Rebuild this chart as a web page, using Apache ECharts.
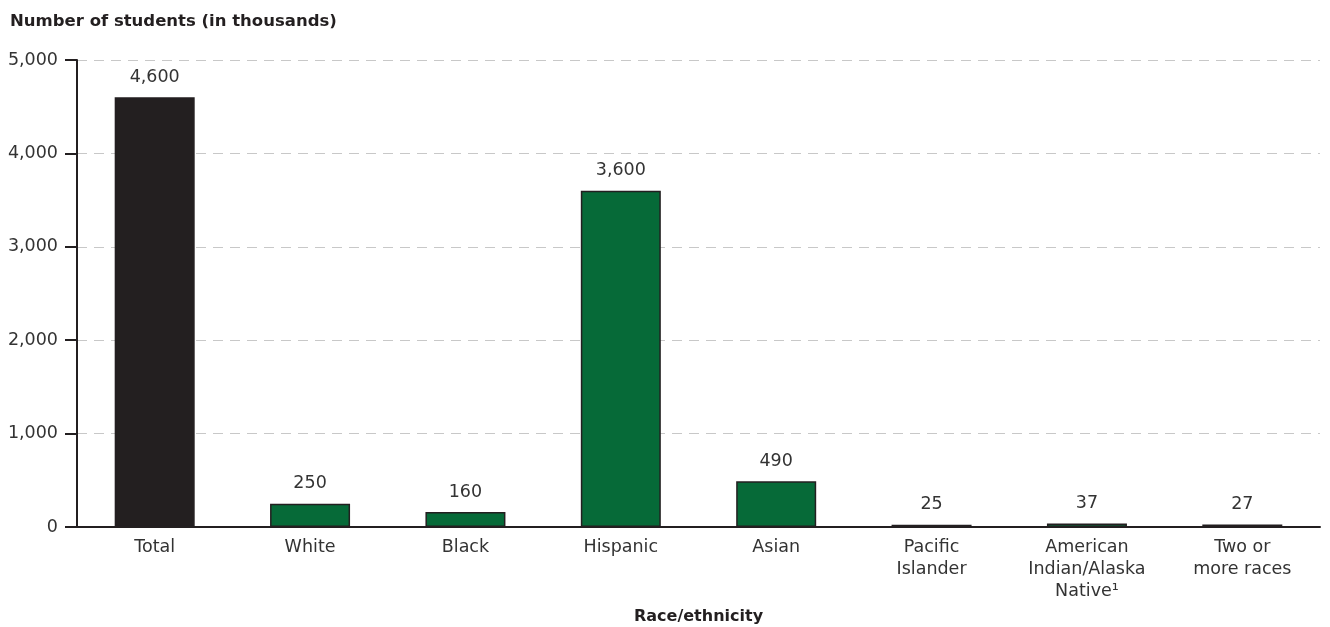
<!DOCTYPE html>
<html><head><meta charset="utf-8">
<script src="https://cdn.jsdelivr.net/npm/echarts@6/dist/echarts.min.js"></script>
<style>html,body{margin:0;padding:0;background:#fff}#c{width:1330px;height:627px}</style>
</head><body><div id="c"></div>
<script>
const categories = ["Total","White","Black","Hispanic","Asian","Pacific\nIslander","American\nIndian/Alaska\nNative\u00B9","Two or\nmore races"];
const values = [4600,250,160,3600,490,25,37,27];
const barColors = ["#231f20","#066a38","#066a38","#066a38","#066a38","#066a38","#066a38","#066a38"];
const yTicks = {min:0,max:5000,interval:1000};
const FONT = "'DejaVu Sans', sans-serif";
const chart = echarts.init(document.getElementById('c'));
chart.setOption({
  animation:false,
  title:{text:"Number of students (in thousands)",left:5,top:8,textStyle:{fontFamily:FONT,fontSize:16.5,fontWeight:'bold',color:'#231f20'}},
  grid:{left:77,right:10,top:60,bottom:100,outerBoundsMode:'none',containLabel:false},
  xAxis:{type:'category',data:categories,
    name:"Race/ethnicity",nameLocation:'middle',nameGap:90,
    nameTextStyle:{fontFamily:FONT,fontSize:16,fontWeight:'bold',color:'#231f20',verticalAlign:'middle'},
    axisLine:{lineStyle:{color:'#231f20',width:2}},axisTick:{show:false},
    axisLabel:{fontFamily:FONT,fontSize:17.5,color:'#333',margin:9,lineHeight:22,interval:0}},
  yAxis:{type:'value',min:yTicks.min,max:yTicks.max,interval:yTicks.interval,
    axisLine:{show:true,lineStyle:{color:'#231f20',width:2}},
    axisTick:{show:true,length:12,lineStyle:{color:'#231f20',width:2}},
    axisLabel:{fontFamily:FONT,fontSize:17.5,color:'#333',margin:19,formatter:v=>v.toLocaleString('en-US')},
    splitLine:{show:true,lineStyle:{color:'#c8c8c8',type:[10,7],width:1}}},
  series:[{type:'bar',barWidth:80,
    data:values.map((v,i)=>({value:v,itemStyle:{color:barColors[i]}})),
    itemStyle:{borderColor:'#231f20',borderWidth:1.5},
    label:{show:true,position:'top',distance:11,fontFamily:FONT,fontSize:17.5,color:'#333',formatter:p=>p.value.toLocaleString('en-US')}}]
});
</script></body></html>
